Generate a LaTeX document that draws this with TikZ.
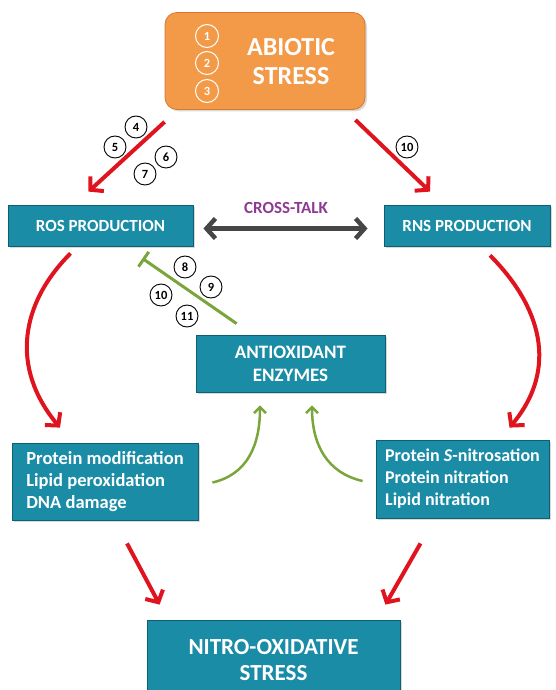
\documentclass[tikz,border=0pt]{standalone}
\usepackage{fontspec}
\setmainfont{Carlito}
\usetikzlibrary{arrows.meta,shadows}

\definecolor{boxteal}{HTML}{1A8CA6}
\definecolor{tealedge}{HTML}{0F5F72}
\definecolor{abiorange}{HTML}{F29A48}
\definecolor{orangeedge}{HTML}{D9772A}
\definecolor{arrred}{HTML}{E0141E}
\definecolor{arrgreen}{HTML}{79A53A}
\definecolor{arrgray}{HTML}{464646}
\definecolor{talkpurple}{HTML}{8E3A93}

\begin{document}
\begin{tikzpicture}[x=1pt,y=-1pt,
	tealbox/.style={draw=tealedge, line width=0.8pt, fill=boxteal, inner sep=0pt,
		drop shadow={opacity=0.3, shadow xshift=2pt, shadow yshift=-2pt},
		text=white, font=\bfseries\fontsize{17}{22}\selectfont},
	numcirc/.style={circle, draw, line width=0.9pt, fill=white, minimum size=22pt, inner sep=0pt,
		font=\bfseries\fontsize{12.5}{12.5}\selectfont},
	whitenum/.style={circle, draw=white, line width=1pt, minimum size=23pt, inner sep=0pt,
		text=white, font=\bfseries\fontsize{12.5}{12.5}\selectfont},
	redarrow/.style={draw=arrred, line width=4pt, -{Straight Barb[length=9pt,width=20pt]}},
	greenarrow/.style={draw=arrgreen, line width=2.5pt, -{Straight Barb[length=6pt,width=12pt]}},
	]
	
	\useasboundingbox (0,0) rectangle (556,690);
	
	% abiotic stress
	\node[draw=orangeedge, line width=0.8pt, fill=abiorange, rounded corners=12pt,
		minimum width=200pt, minimum height=97pt,
		drop shadow={opacity=0.3, shadow xshift=2pt, shadow yshift=-2pt}] (abiotic) at (265,61) {};
	\node[text=white, align=center, font=\bfseries\fontsize{26}{29}\selectfont] (abiotext) at (291,62) {ABIOTIC\\STRESS};
	\node[whitenum] (n1) at (207,36) {1};
	\node[whitenum] (n2) at (207,63) {2};
	\node[whitenum] (n3) at (207,91) {3};
	
	% production boxes
	\node[tealbox, minimum width=185pt, minimum height=41pt] (ros) at (100.5,225.5) {ROS PRODUCTION};
	\node[tealbox, minimum width=166pt, minimum height=41pt] (rns) at (467,225.5) {RNS PRODUCTION};
	
	% cross-talk
	\node[text=talkpurple, font=\bfseries\fontsize{17}{17}\selectfont] (talk) at (286,208) {CROSS-TALK};
	\draw[arrgray, line width=4.5pt, {Straight Barb[length=9pt,width=20pt]}-{Straight Barb[length=9pt,width=20pt]}]
		([xshift=10pt,yshift=-3pt]ros.east) -- ([xshift=-16pt,yshift=-3pt]rns.west);
	
	% antioxidant enzymes
	\node[tealbox, align=center, minimum width=189pt, minimum height=57pt,
		font=\bfseries\fontsize{19}{23}\selectfont] (antiox) at (290.5,363.5) {ANTIOXIDANT\\ENZYMES};
	
	% damage boxes
	\node[tealbox, align=left, minimum width=186pt, minimum height=77pt,
		font=\bfseries\fontsize{18.5}{22}\selectfont] (rosdamage) at (105,481.5)
		{Protein modification\\Lipid peroxidation\\DNA damage};
	\node[tealbox, align=left, minimum width=173pt, minimum height=78pt,
		font=\bfseries\fontsize{18}{22}\selectfont] (rnsdamage) at (462.5,479)
		{Protein \textit{S}-nitrosation\\Protein nitration\\Lipid nitration};
	
	% nitro-oxidative stress
	\node[tealbox, align=center, minimum width=253pt, minimum height=80pt,
		font=\bfseries\fontsize{23}{26}\selectfont] (nitro) at (273.5,660) {NITRO-OXIDATIVE\\STRESS};
	
	% red arrows
	\draw[redarrow] ([yshift=-12pt]abiotic.south west) -- ([xshift=-12pt,yshift=13pt]ros.north);
	\draw[redarrow] ([xshift=-10pt,yshift=-10pt]abiotic.south east) -- ([xshift=-37pt,yshift=13pt]rns.north);
	\draw[redarrow] ([xshift=-30pt,yshift=-7pt]ros.south) .. controls +(-50,50) and +(-50,-60) .. ([xshift=-45pt,yshift=15pt]rosdamage.north);
	\draw[redarrow] ([xshift=23pt,yshift=-9pt]rns.south) .. controls +(50,50) and +(50,-60) .. ([xshift=47pt,yshift=12pt]rnsdamage.north);
	\draw[redarrow] ([xshift=22pt,yshift=-23pt]rosdamage.south) -- ([xshift=13pt,yshift=15pt]nitro.north west);
	\draw[redarrow] ([xshift=-42pt,yshift=-25pt]rnsdamage.south) -- ([xshift=-15pt,yshift=15pt]nitro.north east);
	
	% green arrows (up to enzymes)
	\draw[greenarrow] ([xshift=14pt,yshift=-1pt]rosdamage.east) .. controls +(35,-8) and +(0,40) .. ([xshift=-30.5pt,yshift=-13pt]antiox.south);
	\draw[greenarrow] ([xshift=-13pt,yshift=-2pt]rnsdamage.west) .. controls +(-35,-8) and +(0,40) .. ([xshift=21.5pt,yshift=-13pt]antiox.south);
	
	% inhibition of ros
	\draw[arrgreen, line width=3pt, -{Bar[width=18pt]}] ([xshift=41pt,yshift=11pt]antiox.north west) -- ([xshift=-51pt,yshift=-12pt]ros.south east);
	
	% numbered steps
	\node[numcirc] (c4) at (136,127) {4};
	\node[numcirc] (c5) at (115,147) {5};
	\node[numcirc] (c6) at (166,157) {6};
	\node[numcirc] (c7) at (145,174) {7};
	\node[numcirc] (c10a) at (407,147) {10};
	\node[numcirc] (c8) at (185,267) {8};
	\node[numcirc] (c9) at (211,287) {9};
	\node[numcirc] (c10b) at (161,295) {10};
	\node[numcirc] (c11) at (187,316) {11};
	
\end{tikzpicture}
\end{document}
